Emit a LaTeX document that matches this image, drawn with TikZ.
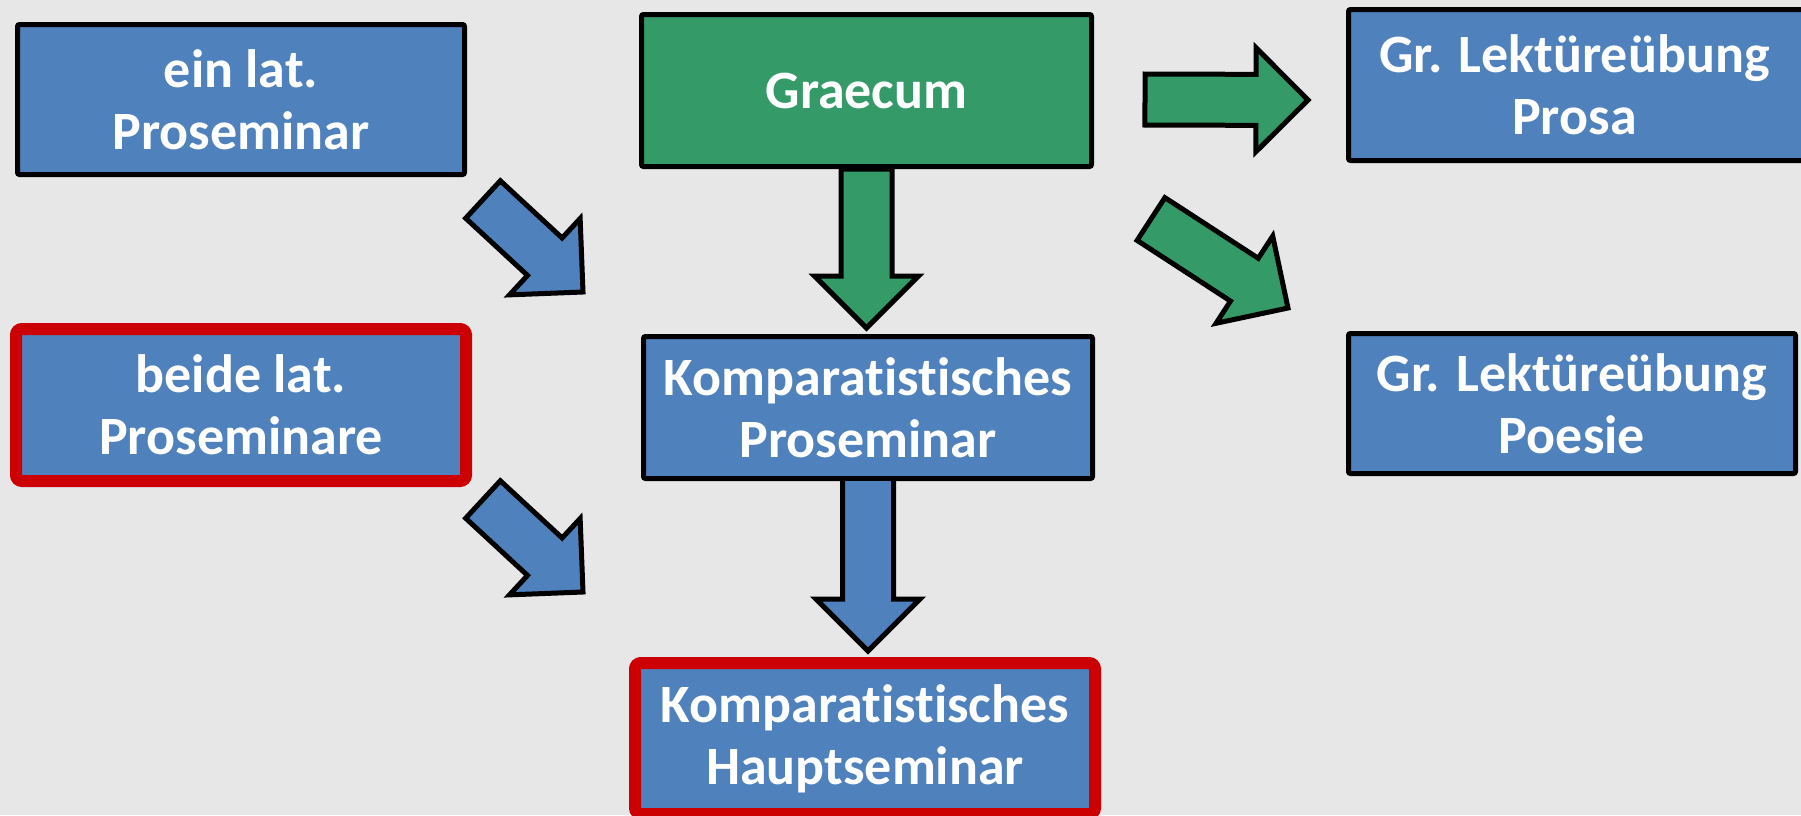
\documentclass[tikz,border=0pt]{standalone}
\usepackage{fontspec}
\setmainfont{Carlito}[RawFeature={-liga;-clig;-calt;-dlig}]
\usetikzlibrary{calc,backgrounds}
\definecolor{bggray}{RGB}{231,231,231}
\definecolor{boxblue}{RGB}{79,129,189}
\definecolor{boxgreen}{RGB}{52,154,104}
\definecolor{hlred}{RGB}{204,0,0}
\newcommand{\komp}{Komparat\kern0pt ist\kern0pt isches}
% corner points p1..p7 of a block arrow from #1 to #2
\newcommand{\arrpts}[2]{%
  \path (#1) coordinate (ba-s) (#2) coordinate (ba-e);
  \path ($(ba-e)!26pt!(ba-s)$) coordinate (ba-h);
  \path ($(ba-s)!12.75pt!90:(ba-e)$) coordinate (p1)
        ($(ba-h)!12.75pt!90:(ba-e)$) coordinate (p2)
        ($(ba-h)!26pt!90:(ba-e)$) coordinate (p3)
        (ba-e) coordinate (p4)
        ($(ba-h)!26pt!-90:(ba-e)$) coordinate (p5)
        ($(ba-h)!12.75pt!-90:(ba-e)$) coordinate (p6)
        ($(ba-s)!12.75pt!-90:(ba-e)$) coordinate (p7);
}
\tikzset{
  box/.style={rectangle, inner sep=0pt, align=center, text=white,
    font=\bfseries\fontsize{27}{31}\selectfont, rounded corners=1pt},
  bluebox/.style={box, fill=boxblue, draw=black, line width=2.5pt},
  greenbox/.style={box, fill=boxgreen, draw=black, line width=2.5pt},
  redbox/.style={box, fill=boxblue, draw=hlred, line width=6pt, rounded corners=3pt},
  bluearr/.style={fill=boxblue, draw=black, line width=2.5pt, line join=miter},
  greenarr/.style={fill=boxgreen, draw=black, line width=2.5pt, line join=miter},
  arroutline/.style={draw=black, line width=2.5pt, line join=miter},
}
\begin{document}
\begin{tikzpicture}[x=0.5pt,y=-0.5pt]
\useasboundingbox (0,0) rectangle (1801,815);

\node[bluebox, minimum width=223.5pt, minimum height=75pt] (lat1) at (241,99.5) {ein lat.\\Proseminar};
\node[greenbox, minimum width=225pt, minimum height=76pt] (graecum) at (866.5,90.5) {Graecum};
\node[bluebox, minimum width=233.25pt, minimum height=75.5pt] (prosa) at (1581.75,85) {Gr. Lektüreübung\hspace*{7.25pt}\\Prosa\hspace*{7.25pt}};
\node[redbox, minimum width=225pt, minimum height=76pt] (lat2) at (241,405) {beide lat.\\Proseminare};
\node[bluebox, minimum width=224.5pt, minimum height=71pt] (kpro) at (868,407.5) {\komp\\Proseminar};
\node[bluebox, minimum width=223.5pt, minimum height=70pt] (poesie) at (1572,403.5) {Gr. Lektüreübung\\Poesie};
\node[redbox, minimum width=230pt, minimum height=75.5pt] (haupt) at (865,738.5) {\komp\\Hauptseminar};

\coordinate (b1s) at (483,199.5);
\coordinate (b1e) at (583,292);
\coordinate (b2s) at (483,499.5);
\coordinate (b2e) at (583,592);
\coordinate (g1s) at (1145,99.5);
\coordinate (g1e) at (1308,100);
\coordinate (g2s) at (1151,219);
\coordinate (g2e) at (1288,308);

\begin{pgfonlayer}{background}
\fill[bggray] (0,0) rectangle (1801,815);
\arrpts{b1s}{b1e}
\draw[bluearr] (p1) -- (p2) -- (p3) -- (p4) -- (p5) -- (p6) -- (p7) -- cycle;
\arrpts{b2s}{b2e}
\draw[bluearr] (p1) -- (p2) -- (p3) -- (p4) -- (p5) -- (p6) -- (p7) -- cycle;
\arrpts{g1s}{g1e}
\draw[greenarr] (p1) -- (p2) -- (p3) -- (p4) -- (p5) -- (p6) -- (p7) -- cycle;
\arrpts{g2s}{g2e}
\draw[greenarr] (p1) -- (p2) -- (p3) -- (p4) -- (p5) -- (p6) -- (p7) -- cycle;
\arrpts{graecum.south}{[yshift=3pt]graecum.south |- kpro.north}
\draw[greenarr] (p1) -- (p2) -- (p3) -- (p4) -- (p5) -- (p6) -- (p7) -- cycle;
\end{pgfonlayer}

\arrpts{kpro.south}{[yshift=3pt]kpro.south |- haupt.north}
\fill[boxblue] (p1) -- (p2) -- (p3) -- (p4) -- (p5) -- (p6) -- (p7) -- cycle;
\draw[arroutline] (p1) -- (p2) -- (p3) -- (p4) -- (p5) -- (p6) -- (p7);
\end{tikzpicture}
\end{document}
